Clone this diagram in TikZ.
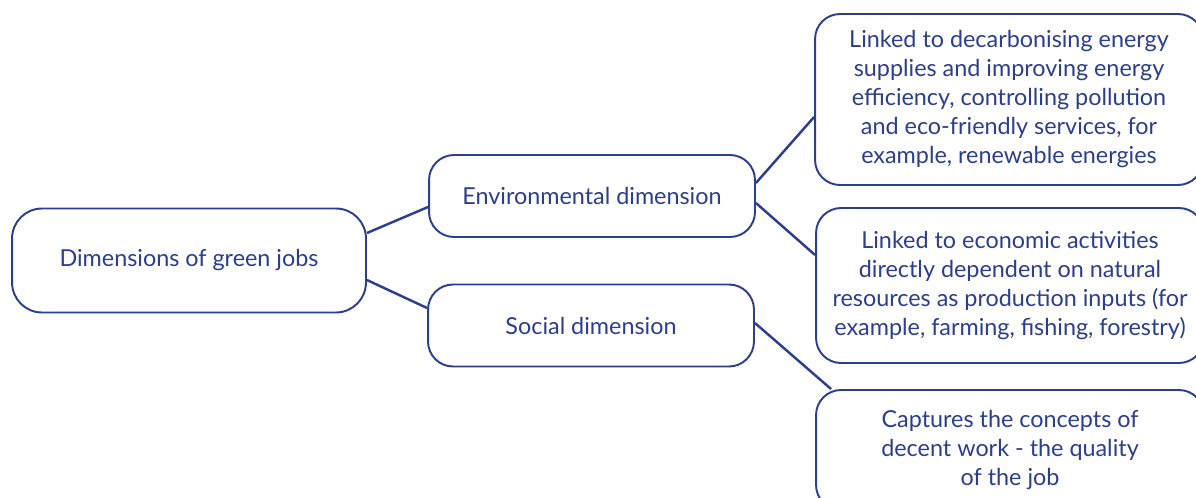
\documentclass[tikz,border=0pt]{standalone}
\usepackage{fontspec}
\setmainfont{Lato}
\usepackage{xcolor}
\definecolor{jobblue}{RGB}{44,62,142}
\usepackage{tikz}
\usetikzlibrary{calc}
\tikzset{
    common/.style={draw=jobblue, line width=1.1pt, rounded corners=0.5cm, text=jobblue,
        align=center, inner sep=0pt, font=\fontsize{13.3}{16.5}\selectfont},
    rootbox/.style={common, minimum width=7.08cm, minimum height=2.08cm, rounded corners=0.6cm},
    dimbox/.style={common, minimum width=6.52cm, minimum height=1.64cm},
    descbox/.style={common, minimum width=7.76cm},
    link/.style={jobblue, line width=1.4pt}
}

\begin{document}
\begin{tikzpicture}[x=0.02cm, y=-0.02cm]
    \clip (0,0) rectangle (1196,497);
    % main box and the two dimensions
    \node[rootbox] (root) at (189,260.5) {Dimensions of green jobs};
    \node[dimbox] (env) at (592,196) {Environmental dimension};
    \node[dimbox] (soc) at (591,325.5) {Social dimension};
    % descriptions
    \node[descbox, minimum height=3.42cm] (energy) at (1009,99.5)
        {Linked to decarbonising energy\\supplies and improving energy\\efficiency, controlling pollution\\and eco-friendly services, for\\example, renewable energies};
    \node[descbox, minimum height=3.1cm] (natural) at (1010,285.5)
        {Linked to economic activities\\directly dependent on natural\\resources as production inputs (for\\example, farming, fishing, forestry)};
    \node[descbox, minimum height=2.4cm] (decent) at (1010,450)
        {Captures the concepts of\\decent work - the quality\\of the job};

    \draw[link] ($(root.east)+(0,-27.5)$) -- ($(env.west)+(0,11)$);
    \draw[link] ($(root.east)+(0,19.5)$) -- ($(soc.west)+(0,-17.5)$);
    \draw[link] ($(env.east)+(0,-13)$) -- ($(energy.west)+(0,17.5)$);
    \draw[link] ($(env.east)+(0,7)$) -- ($(natural.west)+(0,-30.5)$);
    \draw[link] ($(soc.east)+(0,-2.5)$) -- ($(decent.north west)+(16,0)$);
\end{tikzpicture}
\end{document}
